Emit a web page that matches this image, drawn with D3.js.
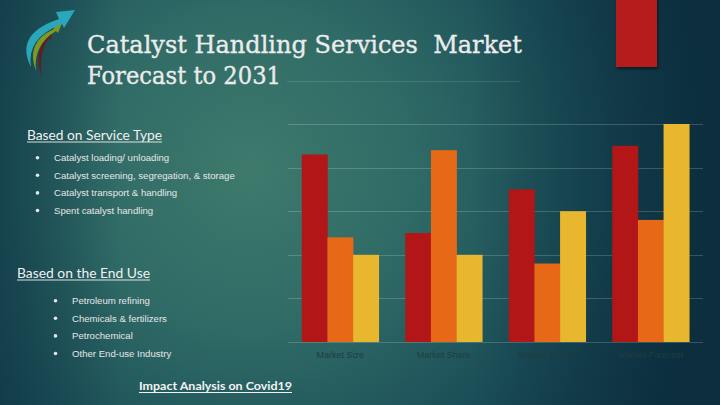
<!DOCTYPE html>
<html><head><meta charset="utf-8">
<script src="https://cdn.jsdelivr.net/npm/d3@7"></script>
<style>html,body{margin:0;padding:0;background:#123c48;}svg{display:block;}</style>
</head><body>
<svg id="c" width="720" height="405"></svg>
<script>
const categories = ["Market Size", "Market Share", "Market Trends", "Market Forecast"];
const series = ["Series 1", "Series 2", "Series 3"];
const series1 = [4.3, 2.5, 3.5, 4.5];
const series2 = [2.4, 4.4, 1.8, 2.8];
const series3 = [2.0, 2.0, 3.0, 5.0];
const yTicks = [0, 1, 2, 3, 4, 5];
const serviceTypes = ["Catalyst loading/ unloading", "Catalyst screening, segregation, & storage", "Catalyst transport & handling", "Spent catalyst handling"];
const endUses = ["Petroleum refining", "Chemicals & fertilizers", "Petrochemical", "Other End-use Industry"];
const titleLines = ["Catalyst Handling Services  Market", "Forecast to 2031"];

const colors = ["#b21616", "#e76816", "#e8b72e"];
const svg = d3.select("#c");
const defs = svg.append("defs");

// background
const rg = defs.append("radialGradient").attr("id","bg").attr("gradientUnits","userSpaceOnUse")
  .attr("cx",250).attr("cy",170).attr("r",470);
rg.append("stop").attr("offset","0").attr("stop-color","#3f7a6d");
rg.append("stop").attr("offset","0.35").attr("stop-color","#2f6a66");
rg.append("stop").attr("offset","0.7").attr("stop-color","#1a4d57");
rg.append("stop").attr("offset","1").attr("stop-color","#0f3544");
svg.append("rect").attr("width",720).attr("height",405).attr("fill","url(#bg)");
const lg = defs.append("linearGradient").attr("id","dark").attr("x1","0").attr("x2","1").attr("y1","0").attr("y2","0");
lg.append("stop").attr("offset","0").attr("stop-color","#0a2a3a").attr("stop-opacity",0);
lg.append("stop").attr("offset","1").attr("stop-color","#0a2a3a").attr("stop-opacity",0.7);
svg.append("rect").attr("x",470).attr("width",250).attr("height",405).attr("fill","url(#dark)");
const lg2 = defs.append("linearGradient").attr("id","darkL").attr("x1","0").attr("x2","1").attr("y1","0").attr("y2","0");
lg2.append("stop").attr("offset","0").attr("stop-color","#0c3040").attr("stop-opacity",0.55);
lg2.append("stop").attr("offset","1").attr("stop-color","#0c3040").attr("stop-opacity",0);
svg.append("rect").attr("x",0).attr("width",120).attr("height",405).attr("fill","url(#darkL)");

// shadow filter
const f = defs.append("filter").attr("id","sh").attr("x","-20%").attr("y","-20%").attr("width","150%").attr("height","150%");
f.append("feDropShadow").attr("dx",1).attr("dy",2).attr("stdDeviation",1.5).attr("flood-color","#000").attr("flood-opacity",0.5);

// red decoration top-right
svg.append("rect").attr("x",616).attr("y",-5).attr("width",41).attr("height",72).attr("fill","#b51b1a").attr("filter","url(#sh)");

// logo
const logo = svg.append("g");
logo.append("path").attr("d","M42,77 Q33,52 47,38 L45,34 L52,31 L51,40 L49,38 Q38,52 42,77 Z").attr("fill","#6a1a1c");
logo.append("path").attr("d","M36,71 Q25,42 54,29 L52,24 L63,21 L58,33 L56,31 Q33,45 36,71 Z").attr("fill","#7d9a22");
logo.append("path").attr("d","M31,67 Q14,34 59,19 L56,12 L75,10 L64,28 L62,24 Q26,38 31,67 Z").attr("fill","#2aa6bd");

// title
const title = svg.append("g").attr("fill","#ebebeb").attr("stroke","#ebebeb").attr("stroke-width",0.35)
  .style("font-family","'DejaVu Serif', serif").style("font-size","24.5px");
title.append("text").attr("x",87).attr("y",53).attr("textLength",435).attr("lengthAdjust","spacingAndGlyphs").text(titleLines[0].replace(/  /g, " \u00a0"));
title.append("text").attr("x",87).attr("y",84).attr("textLength",194).attr("lengthAdjust","spacingAndGlyphs").text(titleLines[1]);
svg.append("line").attr("x1",287).attr("x2",520).attr("y1",81.5).attr("y2",81.5).attr("stroke","#ffffff").attr("stroke-opacity",0.12);

// left text
function heading(x, y, w, t){
  svg.append("text").attr("x",x).attr("y",y).attr("fill","#f0f0f0")
    .style("font-family","Lato, 'Open Sans', sans-serif").style("font-size","13.5px")
    .attr("textLength",w).attr("lengthAdjust","spacingAndGlyphs").text(t);
  svg.append("line").attr("x1",x).attr("x2",x+w).attr("y1",y+2).attr("y2",y+2).attr("stroke","#f0f0f0").attr("stroke-width",0.9);
}
heading(27, 140, 135, "Based on Service Type");
heading(17, 278, 133, "Based on the End Use");

function bullets(items, bx, tx, y0, dy){
  items.forEach((t,i)=>{
    const y = y0 + i*dy;
    svg.append("circle").attr("cx",bx).attr("cy",y-3.3).attr("r",1.8).attr("fill","#e6e6e6");
    svg.append("text").attr("x",tx).attr("y",y).attr("fill","#e6e6e6")
      .style("font-family","'Liberation Sans', Arial, sans-serif").style("font-size","9.6px").text(t);
  });
}
bullets(serviceTypes, 37.5, 54, 161, 17.6);
bullets(endUses, 55.5, 72, 304, 17.6);

svg.append("text").attr("x",139).attr("y",390).attr("fill","#f2f2f2")
  .style("font-family","Lato, 'Open Sans', sans-serif").style("font-size","11.5px").style("font-weight","bold")
  .attr("textLength",153).attr("lengthAdjust","spacingAndGlyphs").text("Impact Analysis on Covid19");
svg.append("line").attr("x1",139).attr("x2",292).attr("y1",392.5).attr("y2",392.5).attr("stroke","#f2f2f2").attr("stroke-width",1);

// chart
const x = d3.scaleBand().domain(categories).range([288,703]).paddingInner(0.256).paddingOuter(0.133);
const xs = d3.scaleBand().domain(series).range([0, x.bandwidth()]);
const y = d3.scaleLinear().domain([0,5]).range([342,124]);

svg.append("g").selectAll("line").data(yTicks).join("line")
  .attr("x1",288).attr("x2",703).attr("y1",d=>Math.round(y(d))+0.5).attr("y2",d=>Math.round(y(d))+0.5)
  .attr("stroke","#ffffff").attr("stroke-opacity",0.18).attr("stroke-width",1);

const data = categories.map((c,i)=>({cat:c, vals:[series1[i],series2[i],series3[i]]}));
const g = svg.append("g").selectAll("g").data(data).join("g").attr("transform",d=>`translate(${x(d.cat)},0)`);
g.selectAll("rect").data(d=>d.vals.map((v,j)=>({s:series[j],v,j}))).join("rect")
  .attr("x",d=>xs(d.s)).attr("width",xs.bandwidth()+0.3)
  .attr("y",d=>y(d.v)).attr("height",d=>y(0)-y(d.v)).attr("fill",d=>colors[d.j]);

const xAxis = svg.append("g").attr("transform","translate(0,342)")
  .call(d3.axisBottom(x).tickSize(0).tickPadding(10));
xAxis.select(".domain").remove();
xAxis.selectAll("text").attr("fill","#1f3d42").style("font-family","'Liberation Sans', Arial, sans-serif").style("font-size","9px");
</script>
</body></html>
